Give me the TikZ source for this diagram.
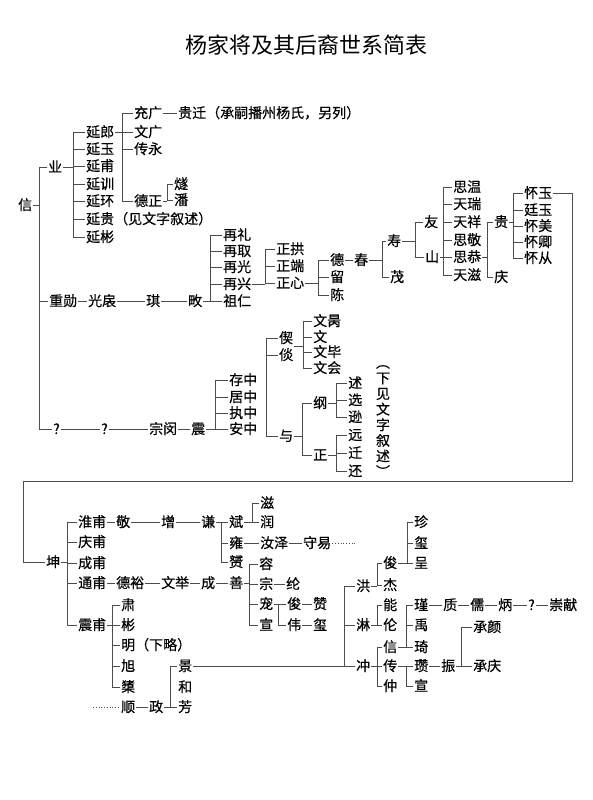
\documentclass[tikz,border=0pt]{standalone}
\usepackage{fontspec}
\newfontfamily\cjk[UprightFeatures={FakeBold=0.4}]{Noto Sans CJK SC}
\newfontfamily\cjkt{Noto Sans CJK SC}
\usetikzlibrary{calc}
\tikzset{
  nm/.style={anchor=west, inner sep=1pt, text height=10pt, text depth=0pt, font=\cjk\fontsize{14}{14}\selectfont},
  ln/.style={draw=black!70, line width=0.75pt, line cap=rect},
  dots/.style={draw=black!70, line width=0.75pt, dotted},
}
\newcommand\nd[4]{\node[nm] (#1) at (#2,#3) {#4};}
\newcommand\lk[2]{\draw[ln] (#1.east) -- (#2.west);}
\newcommand\kin[5]{%
  \draw[ln] (#1.east) -- (#2,0 |- #1.east);
  \draw[ln] (#2,0 |- #1.east) -- (#2,0 |- #3.west);
  \draw[ln] (#2,0 |- #3.west) -- (#2,0 |- #4.west);
  \foreach \ch in {#5} {\draw[ln] (#2,0 |- \ch.west) -- (\ch.west);}
}
\begin{document}
\begin{tikzpicture}[x=1pt,y=-1pt]
\fill[white] (0,0) rectangle (592,800);
\useasboundingbox (0,0) rectangle (592,800);
\node[font=\cjkt\fontsize{22}{22}\selectfont, inner sep=0] (title) at (306,45) {杨家将及其后裔世系简表};
% ---------- section 1 ----------
\nd{xin}{17}{205}{信}
\nd{ye}{47}{167}{业}
\nd{zx}{48}{301}{重勋}
\nd{qa}{52}{429}{?}
\kin{xin}{39}{ye}{qa}{ye,zx,qa}
\nd{y1}{85}{132}{延郎}
\nd{y2}{85}{149}{延玉}
\nd{y3}{85}{166}{延甫}
\nd{y4}{85}{184}{延训}
\nd{y5}{85}{201}{延环}
\nd{y6}{85}{219}{延贵（见文字叙述）}
\nd{y7}{85}{237}{延彬}
\kin{ye}{73}{y1}{y7}{y1,y2,y3,y4,y5,y6,y7}
\nd{cg}{133}{113}{充广}
\nd{wg}{133}{132}{文广}
\nd{cy}{133}{149}{传永}
\nd{dz}{133}{201}{德正}
\kin{y1}{122}{cg}{dz}{cg,wg,cy,dz}
\nd{gq}{177}{113}{贵迁（承嗣播州杨氏，另列）}
\lk{cg}{gq}
\nd{sui}{173}{184}{燧}
\nd{pan}{173}{200}{潘}
\kin{dz}{167}{sui}{pan}{sui,pan}
\nd{gy}{87}{301}{光扆}
\nd{qi}{145}{301}{琪}
\nd{tian}{187}{301}{畋}
\lk{zx}{gy}\lk{gy}{qi}\lk{qi}{tian}
\nd{za}{222}{235}{再礼}
\nd{zb}{222}{251}{再取}
\nd{zc}{222}{267}{再光}
\nd{zdx}{222}{284}{再兴}
\nd{zr}{222}{301}{祖仁}
\kin{tian}{210}{za}{zr}{za,zb,zc,zdx,zr}
\nd{zg}{275}{249}{正拱}
\nd{zd}{275}{266}{正端}
\nd{zxn}{275}{283}{正心}
\kin{zdx}{265}{zg}{zxn}{zg,zd,zxn}
\nd{de}{329}{260}{德}
\nd{liu}{329}{277}{留}
\nd{chen}{329}{295}{陈}
\kin{zxn}{318}{de}{chen}{de,liu,chen}
\nd{chun}{353}{260}{春}
\lk{de}{chun}
\nd{shou}{386}{241}{寿}
\nd{mao}{389}{277}{茂}
\kin{chun}{382}{shou}{mao}{shou,mao}
\nd{you}{423}{222}{友}
\nd{shan}{424}{257}{山}
\kin{shou}{415}{you}{shan}{you,shan}
\nd{sa}{452}{187}{思温}
\nd{sb}{452}{204}{天瑞}
\nd{sc}{452}{222}{天祥}
\nd{sd}{452}{240}{思敬}
\nd{se}{452}{257}{思恭}
\nd{sf}{452}{275}{天滋}
\kin{shan}{443}{sa}{sf}{sa,sb,sc,sd,se,sf}
\nd{gui}{493}{222}{贵}
\nd{qing}{493}{277}{庆}
\kin{se}{487}{gui}{qing}{gui,qing}
\nd{ha}{523}{193}{怀玉}
\nd{hb}{523}{210}{廷玉}
\nd{hc}{523}{226}{怀美}
\nd{hd}{523}{242}{怀卿}
\nd{he}{523}{258}{怀从}
\kin{gui}{513}{ha}{he}{ha,hb,hc,hd,he}
\nd{qb}{100}{429}{?}
\nd{zm}{148}{429}{宗闵}
\nd{zhen}{190}{429}{震}
\lk{qa}{qb}\lk{qb}{zm}\lk{zm}{zhen}
\nd{cz}{228}{380}{存中}
\nd{jz}{228}{397}{居中}
\nd{zzh}{228}{413}{执中}
\nd{az}{228}{429}{安中}
\kin{zhen}{215}{cz}{az}{cz,jz,zzh,az}
\nd{xie}{278}{338}{偰}
\nd{tan}{278}{355}{倓}
\nd{yu}{278}{436}{与}
\draw[ln] (266,0 |- xie.west) -- (266,0 |- yu.west);
\foreach \ch in {xie,tan,yu} {\draw[ln] (266,0 |- \ch.west) -- (\ch.west);}
\nd{wa}{312}{321}{文昺}
\nd{wb}{312}{337}{文}
\nd{wc}{312}{352}{文毕}
\nd{wd}{312}{368}{文会}
\draw[ln] (303,0 |- wa.west) -- (303,0 |- wd.west);
\foreach \ch in {wa,wb,wc,wd} {\draw[ln] (303,0 |- \ch.west) -- (\ch.west);}
\coordinate (xt) at ($(xie.east)!0.5!(tan.east)$);
\draw[ln] (xt) -- (303,0 |- xt);
\nd{gang}{312}{403}{纲}
\nd{zheng}{312}{455}{正}
\kin{yu}{302}{gang}{zheng}{gang,zheng}
\nd{shu}{347}{383}{述}
\nd{xuan}{347}{400}{选}
\nd{xun}{347}{417}{逊}
\kin{gang}{336}{shu}{xun}{shu,xuan,xun}
\nd{yuan}{347}{435}{远}
\nd{qian}{347}{453}{迁}
\nd{huan}{347}{471}{还}
\kin{zheng}{336}{yuan}{huan}{yuan,qian,huan}
\node[font=\cjk\fontsize{14}{15.6}\selectfont, align=center, inner sep=0] (note) at (383,421) {︵\\下\\见\\文\\字\\叙\\述\\︶};
% ---------- link to section 2 ----------
\nd{kun}{45}{562}{坤}
\draw[ln] (ha.east) -- (572,0 |- ha.east) -- (572,481) -- (23,481) |- (kun.west);
% ---------- section 2 ----------
\nd{hf}{77}{522}{淮甫}
\nd{qf}{77}{542}{庆甫}
\nd{chf}{77}{563}{成甫}
\nd{tf}{77}{583}{通甫}
\nd{zf}{77}{625}{震甫}
\kin{kun}{67}{hf}{zf}{hf,qf,chf,tf,zf}
\nd{jing}{115}{522}{敬}
\nd{zeng}{160}{522}{增}
\nd{qn}{200}{522}{谦}
\lk{hf}{jing}\lk{jing}{zeng}\lk{zeng}{qn}
\nd{bin}{228}{522}{斌}
\nd{yong}{228}{543}{雍}
\nd{yun}{228}{562}{赟}
\kin{qn}{221}{bin}{yun}{bin,yong,yun}
\nd{zi}{259}{503}{滋}
\nd{run}{259}{522}{润}
\kin{bin}{252}{zi}{run}{zi,run}
\nd{rz}{259}{543}{汝泽}
\nd{sy}{302}{543}{守易}
\lk{yong}{rz}\lk{rz}{sy}
\coordinate (syend) at (355,543);
\draw[dots] (sy.east) -- (syend);
\nd{dy}{115}{583}{德裕}
\nd{wj}{160}{583}{文举}
\nd{cheng}{200}{583}{成}
\nd{shb}{228}{583}{善}
\lk{tf}{dy}\lk{dy}{wj}\lk{wj}{cheng}\lk{cheng}{shb}
\nd{rong}{258}{564}{容}
\nd{zong}{258}{584}{宗}
\nd{chong}{258}{604}{宠}
\nd{xa}{258}{625}{宣}
\kin{shb}{249}{rong}{xa}{rong,zong,chong,xa}
\nd{lun}{285}{584}{纶}
\lk{zong}{lun}
\nd{jun}{286}{604}{俊}
\nd{wei}{286}{625}{伟}
\kin{chong}{278}{jun}{wei}{jun,wei}
\nd{zan}{312}{604}{赞}
\nd{xi}{312}{625}{玺}
\lk{jun}{zan}\lk{wei}{xi}
\nd{su}{120}{605}{肃}
\nd{bb}{120}{625}{彬}
\nd{ming}{120}{645}{明（下略）}
\nd{xu}{120}{666}{旭}
\nd{zhu}{120}{687}{橥}
\kin{zf}{112}{su}{zhu}{su,bb,ming,xu,zhu}
\coordinate (shst) at (93,707);
\nd{shun}{120}{707}{顺}
\draw[dots] (shst) -- (shun.west);
\nd{zhb}{148}{707}{政}
\lk{shun}{zhb}
\nd{jb}{177}{666}{景}
\nd{hhe}{177}{687}{和}
\nd{fang}{177}{707}{芳}
\draw[ln] (zhb.east) -- (170,0 |- zhb.east);
\draw[ln] (170,0 |- jb.west) -- (170,0 |- fang.west);
\foreach \ch in {jb,fang} {\draw[ln] (170,0 |- \ch.west) -- (\ch.west);}
\nd{hong}{355}{586}{洪}
\nd{lin}{355}{625}{淋}
\nd{chb}{355}{666}{冲}
\lk{jb}{chb}
\draw[ln] (344,0 |- hong.west) -- (344,0 |- chb.west);
\foreach \ch in {hong,lin} {\draw[ln] (344,0 |- \ch.west) -- (\ch.west);}
\nd{jn}{382}{563}{俊}
\nd{jie}{382}{585}{杰}
\kin{hong}{377}{jn}{jie}{jn,jie}
\nd{zhn}{413}{522}{珍}
\nd{xb}{413}{543}{玺}
\nd{cg2}{413}{563}{呈}
\kin{jn}{407}{zhn}{cg2}{zhn,xb,cg2}
\nd{neng}{382}{605}{能}
\nd{lun2}{382}{625}{伦}
\kin{lin}{377}{neng}{lun2}{neng,lun2}
\nd{xinb}{382}{647}{信}
\nd{chuan}{382}{666}{传}
\nd{zhong}{382}{686}{仲}
\kin{chb}{377}{xinb}{zhong}{xinb,chuan,zhong}
\nd{jin}{413}{605}{瑾}
\nd{yub}{413}{625}{禹}
\nd{qib}{413}{647}{琦}
\kin{xinb}{406}{jin}{qib}{jin,yub,qib}
\nd{zhi}{442}{605}{质}
\nd{ru}{469}{605}{儒}
\nd{bing}{497}{605}{炳}
\nd{qc}{527}{605}{?}
\nd{cx}{548}{605}{崇献}
\lk{jin}{zhi}\lk{zhi}{ru}\lk{ru}{bing}\lk{bing}{qc}\lk{qc}{cx}
\nd{zan2}{413}{666}{瓒}
\nd{xc}{413}{686}{宣}
\kin{chuan}{406}{zan2}{xc}{zan2,xc}
\nd{zhenb}{440}{666}{振}
\lk{zan2}{zhenb}
\nd{cya}{472}{627}{承颜}
\nd{cqa}{472}{666}{承庆}
\kin{zhenb}{461}{cya}{cqa}{cya,cqa}
\end{tikzpicture}
\end{document}
